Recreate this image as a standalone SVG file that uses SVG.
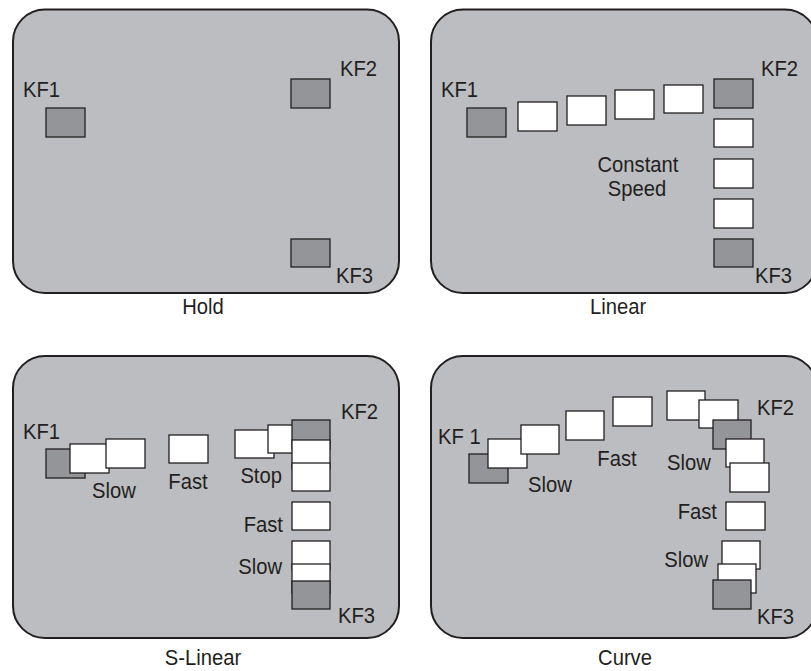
<svg xmlns="http://www.w3.org/2000/svg" width="811" height="671" viewBox="0 0 811 671">
<style>
.panel{fill:#bcbdc0;stroke:#231f20;stroke-width:2}
.kf{fill:#939598;stroke:#231f20;stroke-width:1.3}
.in{fill:#ffffff;stroke:#231f20;stroke-width:1.3}
text{font-family:"Liberation Sans",Arial,sans-serif;font-size:22px;fill:#231f20}
.c{text-anchor:middle}
.e{text-anchor:end}
</style>
<g id="hold">
<rect class="panel" x="13" y="9.5" width="386" height="283.5" rx="32"/>
<rect class="kf" x="46" y="108" width="39" height="29"/>
<rect class="kf" x="291" y="79" width="39" height="29"/>
<rect class="kf" x="291" y="239" width="39" height="28"/>
<text transform="translate(23 97) scale(.92 1)">KF1</text>
<text transform="translate(340 76) scale(.92 1)">KF2</text>
<text transform="translate(336 283) scale(.92 1)">KF3</text>
<text class="c" transform="translate(203 314) scale(.92 1)">Hold</text>
</g>
<g id="linear">
<rect class="panel" x="431" y="9.5" width="386" height="283.5" rx="32"/>
<rect class="kf" x="467" y="108" width="39" height="29"/>
<rect class="in" x="518" y="102" width="39" height="29"/>
<rect class="in" x="567" y="96" width="39" height="29"/>
<rect class="in" x="615" y="90" width="39" height="29"/>
<rect class="in" x="664" y="85" width="39" height="28"/>
<rect class="kf" x="714" y="79" width="39" height="29"/>
<rect class="in" x="714" y="119" width="39" height="28"/>
<rect class="in" x="714" y="159" width="39" height="29"/>
<rect class="in" x="714" y="199" width="39" height="29"/>
<rect class="kf" x="714" y="239" width="39" height="28"/>
<text transform="translate(441 97) scale(.92 1)">KF1</text>
<text transform="translate(761 76) scale(.92 1)">KF2</text>
<text transform="translate(755 283) scale(.92 1)">KF3</text>
<text class="c" transform="translate(638 172) scale(.92 1)">Constant</text>
<text class="c" transform="translate(637 196) scale(.92 1)">Speed</text>
<text class="c" transform="translate(618 314) scale(.92 1)">Linear</text>
</g>
<g id="s-linear">
<rect class="panel" x="13" y="356" width="386" height="282" rx="32"/>
<rect class="kf" x="46" y="449" width="39" height="29"/>
<rect class="in" x="70" y="444" width="39" height="29"/>
<rect class="in" x="106" y="439" width="39" height="29"/>
<rect class="in" x="169" y="435" width="39" height="28"/>
<rect class="in" x="235" y="430" width="39" height="28"/>
<rect class="in" x="268" y="425" width="39" height="28"/>
<rect class="kf" x="292" y="420" width="38" height="29"/>
<rect class="in" x="292" y="440" width="38" height="29"/>
<rect class="in" x="292" y="463" width="38" height="28"/>
<rect class="in" x="292" y="502" width="38" height="28"/>
<rect class="in" x="292" y="541" width="38" height="29"/>
<rect class="in" x="292" y="564" width="38" height="29"/>
<rect class="kf" x="292" y="581" width="38" height="28"/>
<text transform="translate(23 439) scale(.92 1)">KF1</text>
<text transform="translate(341 419) scale(.92 1)">KF2</text>
<text transform="translate(338 623) scale(.92 1)">KF3</text>
<text transform="translate(92 498) scale(.92 1)">Slow</text>
<text class="c" transform="translate(188 489) scale(.92 1)">Fast</text>
<text class="e" transform="translate(282 483) scale(.92 1)">Stop</text>
<text class="e" transform="translate(283 532) scale(.92 1)">Fast</text>
<text class="e" transform="translate(282 574) scale(.92 1)">Slow</text>
<text class="c" transform="translate(203 665) scale(.92 1)">S-Linear</text>
</g>
<g id="curve">
<rect class="panel" x="431" y="356" width="386" height="282" rx="32"/>
<rect class="kf" x="469" y="454" width="39" height="29"/>
<rect class="in" x="488" y="439" width="39" height="29"/>
<rect class="in" x="521" y="425" width="38" height="29"/>
<rect class="in" x="566" y="411" width="38" height="29"/>
<rect class="in" x="613" y="397" width="39" height="29"/>
<rect class="in" x="667" y="391" width="38" height="29"/>
<rect class="in" x="699" y="400" width="39" height="28"/>
<rect class="kf" x="713" y="420" width="38" height="29"/>
<rect class="in" x="726" y="439" width="38" height="28"/>
<rect class="in" x="730" y="463" width="39" height="29"/>
<rect class="in" x="726" y="502" width="39" height="28"/>
<rect class="in" x="722" y="541" width="38" height="28"/>
<rect class="in" x="718" y="564" width="38" height="29"/>
<rect class="kf" x="713" y="580" width="38" height="29"/>
<text transform="translate(438 444) scale(.92 1)">KF 1</text>
<text transform="translate(757 415) scale(.92 1)">KF2</text>
<text transform="translate(757 624) scale(.92 1)">KF3</text>
<text transform="translate(528 492) scale(.92 1)">Slow</text>
<text class="c" transform="translate(617 466) scale(.92 1)">Fast</text>
<text class="c" transform="translate(689 470) scale(.92 1)">Slow</text>
<text class="e" transform="translate(717 519) scale(.92 1)">Fast</text>
<text class="e" transform="translate(708 567) scale(.92 1)">Slow</text>
<text class="c" transform="translate(625 665) scale(.92 1)">Curve</text>
</g>
</svg>
